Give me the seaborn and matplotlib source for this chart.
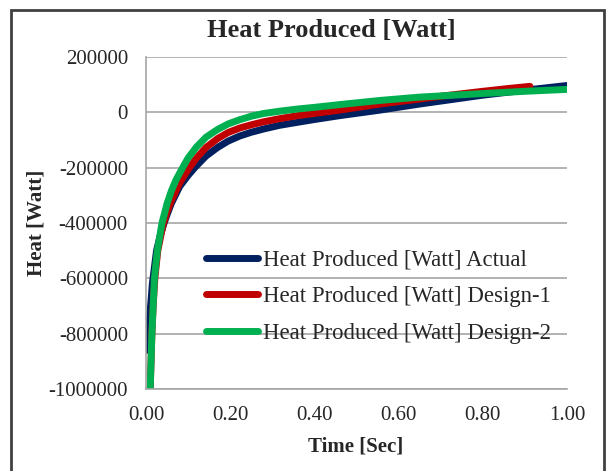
import matplotlib
matplotlib.use('Agg')
import matplotlib.pyplot as plt
from matplotlib.patches import Rectangle
import pandas as pd
import seaborn as sns

# dados (tempo em s, calor em W)
tempo_actual = [0.004, 0.006, 0.008, 0.012, 0.015, 0.02, 0.025, 0.033, 0.043,
                0.05, 0.06, 0.08, 0.10, 0.117, 0.1425, 0.17, 0.195, 0.222,
                0.25, 0.28, 0.317, 0.36, 0.40, 0.46, 0.556, 0.65, 0.80, 0.90,
                1.00]
calor_actual = [-860000, -800000, -750000, -680000, -620000, -560000, -500000,
                -450000, -400000, -370000, -330000, -268000, -228000, -198000,
                -158000, -127000, -104000, -86000, -72000, -60000, -47000,
                -36000, -26000, -12000, 8000, 30000, 62000, 80000, 97000]

tempo_design1 = [0.01, 0.012, 0.014, 0.017, 0.021, 0.028, 0.04, 0.05, 0.06,
                 0.08, 0.103, 0.12, 0.1425, 0.17, 0.195, 0.222, 0.25, 0.28,
                 0.317, 0.36, 0.40, 0.46, 0.556, 0.65, 0.71, 0.80, 0.86, 0.912]
calor_design1 = [-1000000, -900000, -800000, -700000, -600000, -500000, -410000,
                 -360000, -320000, -255000, -200000, -165000, -127000, -95000,
                 -73000, -57000, -45000, -34000, -23000, -12000, -4000, 8000,
                 30000, 48000, 60000, 76000, 86000, 94000]

tempo_design2 = [0.01, 0.012, 0.014, 0.017, 0.02, 0.027, 0.038, 0.05, 0.06,
                 0.071, 0.087, 0.10, 0.12, 0.1425, 0.17, 0.195, 0.222, 0.25,
                 0.28, 0.317, 0.36, 0.40, 0.46, 0.556, 0.65, 0.80, 0.90, 1.00]
calor_design2 = [-1000000, -900000, -800000, -700000, -600000, -500000, -400000,
                 -330000, -285000, -245000, -200000, -165000, -125000, -90000,
                 -62000, -42000, -27000, -14000, -4000, 4000, 12000, 18000,
                 28000, 43000, 55000, 68000, 76000, 83000]

nomes = ['Heat Produced [Watt] Actual',
         'Heat Produced [Watt] Design-1',
         'Heat Produced [Watt] Design-2']
cores = ['#002060', '#C00000', '#00B050']

linhas = []
for nome, tt, cc in zip(nomes, [tempo_actual, tempo_design1, tempo_design2],
                        [calor_actual, calor_design1, calor_design2]):
    for t, c in zip(tt, cc):
        linhas.append({'Time': t, 'Heat': c, 'Serie': nome})
df = pd.DataFrame(linhas)

sns.set_style('white')
plt.rcParams['font.family'] = ['Liberation Serif', 'DejaVu Serif']

fig = plt.figure(figsize=(6.09, 4.71), dpi=100)
ax = fig.add_axes([146 / 609, 1 - 389 / 471, 421 / 609, 332 / 471])

sns.lineplot(data=df, x='Time', y='Heat', hue='Serie', palette=cores,
             linewidth=5, sort=False, estimator=None, ax=ax,
             solid_capstyle='round', solid_joinstyle='round')

ax.set_xlim(0, 1)
ax.set_ylim(-1000000, 200000)
ax.set_xticks([0, 0.2, 0.4, 0.6, 0.8, 1.0])
ax.set_xticklabels(['0.00', '0.20', '0.40', '0.60', '0.80', '1.00'])
ax.set_yticks(range(-1000000, 200001, 200000))
ax.set_yticklabels([str(v) for v in range(-1000000, 200001, 200000)])
ax.tick_params(axis='y', length=0, pad=13, labelsize=15)
ax.tick_params(axis='x', length=0, pad=12, labelsize=15)

ax.grid(True, axis='y', color='#a6a6a6', linewidth=1.2)
ax.set_axisbelow(True)
for lado in ['top', 'right']:
    ax.spines[lado].set_visible(False)
for lado in ['left', 'bottom']:
    ax.spines[lado].set_color('#a6a6a6')
    ax.spines[lado].set_linewidth(1.2)

ax.set_xlabel('')
ax.set_ylabel('')
fig.text(331 / 609, 1 - 30 / 471, 'Heat Produced [Watt]', fontsize=19,
         fontweight='bold', ha='center', va='center')
fig.text(356 / 609, 1 - 446 / 471, 'Time [Sec]', fontsize=15,
         fontweight='bold', ha='center', va='center')
fig.text(37 / 609, 1 - 223 / 471, 'Heat [Watt]', fontsize=15,
         fontweight='bold', ha='center', va='center', rotation=90)

leg = ax.legend(loc='upper left', bbox_to_anchor=(0.142, 0.419), frameon=False,
                fontsize=16.4, handlelength=2.3, handletextpad=0.2,
                labelspacing=0.68, borderpad=0, borderaxespad=0)
for h in leg.get_lines():
    h.set_linewidth(5)
    h.set_solid_capstyle('round')

# moldura externa
fig.patches.append(Rectangle((11 / 609, -0.05), 593 / 609, 1.05 - 10 / 471,
                             transform=fig.transFigure, fill=False,
                             edgecolor='#404040', linewidth=2))

fig.savefig('out.png', dpi=100)
plt.close()
